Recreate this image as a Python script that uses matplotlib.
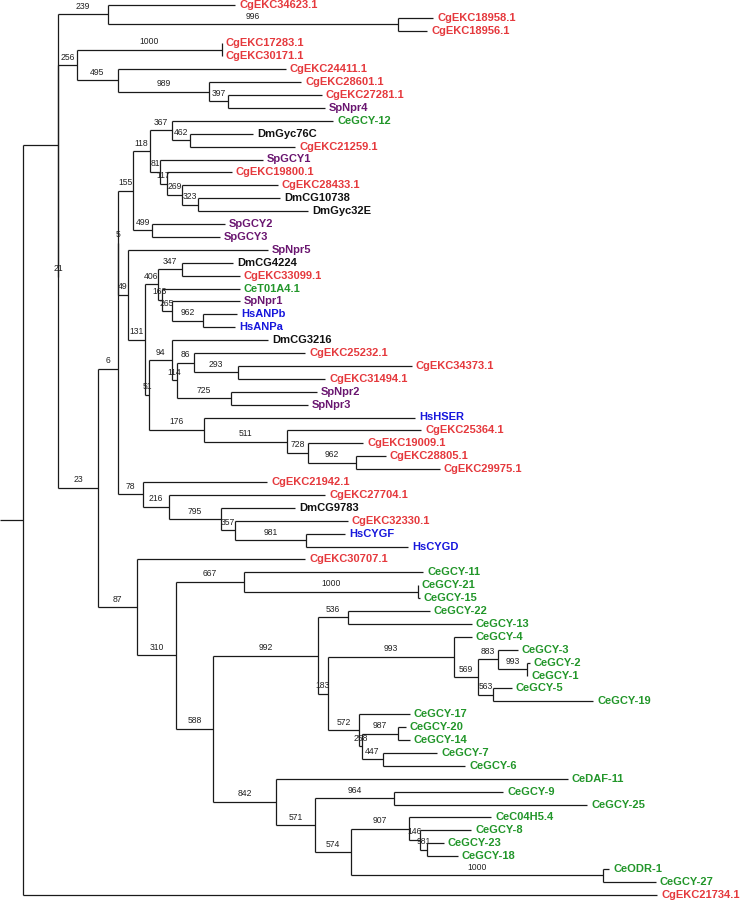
import matplotlib
matplotlib.use("Agg")
import matplotlib.pyplot as plt
from matplotlib.collections import LineCollection

# Tree in Newick form: internal labels are bootstrap values, lengths in drawing units
TOP = "(CgEKC34623.1:127,(CgEKC18958.1:35,CgEKC18956.1:29)996:290)239:50"
CG = ("((CgEKC17283.1:0,CgEKC30171.1:0)1000:145,(CgEKC24411.1:168,"
      "(CgEKC28601.1:92,(CgEKC27281.1:94,SpNpr4:97)397:19)989:91)495:41)256:19")
GCY = ("(((CeGCY-12:161,(DmGyc76C:63,CgEKC21259.1:105)462:18)367:22,"
       "(SpGCY1:103,(CgEKC19800.1:65,(CgEKC28433.1:96,(DmCG10738:82,DmGyc32E:110)323:16)269:15)117:7)81:10)118:17,"
       "(SpGCY2:73,SpGCY3:68)499:19)155:15")
NPR = ("(SpNpr5:140,(((DmCG4224:51,CgEKC33099.1:58)347:24,"
       "(CeT01A4.1:78,(SpNpr1:68,(HsANPb:34,HsANPa:32)962:31)265:10)163:4)406:13,"
       "((DmCG3216:96,((CgEKC25232.1:111,(CgEKC34373.1:174,CgEKC31494.1:87)293:44)86:17,"
       "(SpNpr2:86,SpNpr3:77)725:54)114:5)94:23,"
       "(HsHSER:211,(CgEKC25364.1:134,(CgEKC19009.1:55,(CgEKC28805.1:30,CgEKC29975.1:84)962:48)728:21)511:83)176:55)51:4)131:17)49:10")
CYG = ("(CgEKC21942.1:124,(CgEKC27704.1:156,(DmCG9783:74,"
       "(CgEKC32330.1:113,(HsCYGF:39,HsCYGD:102)981:71)357:14)795:52)216:26)78:25")
CE = ("(CgEKC30707.1:168,((CeGCY-11:179,(CeGCY-21:0,CeGCY-15:2)1000:174)667:68,"
      "(((CeGCY-22:82,CeGCY-13:124)536:30,((CeGCY-4:18,((CeGCY-3:20,(CeGCY-2:3,CeGCY-1:0)993:29)883:20,"
      "(CeGCY-5:19,CeGCY-19:100)563:15)569:24)993:126,(CeGCY-17:51,((CeGCY-20:8,CeGCY-14:12)987:36,"
      "(CeGCY-7:54,CeGCY-6:82)447:21)258:3)572:31)183:10)992:105,"
      "(CeDAF-11:292,((CeGCY-9:109,CeGCY-25:193)964:79,((CeC04H5.4:82,(CeGCY-8:51,"
      "(CeGCY-23:17,CeGCY-18:31)981:7)146:11)907:58,(CeODR-1:6,CeGCY-27:53)1000:252)574:36)571:39)842:63)588:37)310:39)87:39")

NEWICK = ("((" + TOP + ",(" + CG + ",(((" + GCY + "," + NPR + ")5:0," + CYG + ")6:20,"
          + CE + ")23:40)21:0):35,CgEKC21734.1:634):23;")

SPECIES_COLORS = {"Cg": "#e5393d", "Ce": "#22962a", "Dm": "#111111",
                  "Sp": "#6a1670", "Hs": "#1616dc"}


def parse_newick(s):
    pos = 0

    def node():
        nonlocal pos
        kids = []
        if s[pos] == "(":
            pos += 1
            kids.append(node())
            while s[pos] == ",":
                pos += 1
                kids.append(node())
            pos += 1
        start = pos
        while s[pos] not in ":,);":
            pos += 1
        name = s[start:pos]
        length = 0.0
        if s[pos] == ":":
            pos += 1
            start = pos
            while s[pos] not in ",);":
                pos += 1
            length = float(s[start:pos])
        return {"name": name, "len": length, "kids": kids}

    return node()


# Layout: x from cumulative branch length, leaves evenly spaced, parents centred
Y0, DY = 4.7, 12.9
leaf_count = [0]


def layout(n, px):
    n["px"] = px
    n["x"] = px + n["len"]
    if not n["kids"]:
        n["y"] = Y0 + leaf_count[0] * DY
        leaf_count[0] += 1
    else:
        for k in n["kids"]:
            layout(k, n["x"])
        n["y"] = (n["kids"][0]["y"] + n["kids"][-1]["y"]) / 2


tree = parse_newick(NEWICK)
layout(tree, 0.0)

fig = plt.figure(figsize=(7.41, 9.01), dpi=100)
ax = fig.add_axes([0, 0, 1, 1])
ax.set_xlim(0, 741)
ax.set_ylim(901, 0)
ax.axis("off")

segs = []


def draw(n):
    segs.append([(n["px"], n["y"]), (n["x"], n["y"])])
    if n["kids"]:
        segs.append([(n["x"], n["kids"][0]["y"]), (n["x"], n["kids"][-1]["y"])])
        if n["name"]:
            ax.text((n["px"] + n["x"]) / 2, n["y"] - 8, n["name"], fontsize=6.2,
                    family="Liberation Sans", color="#222222",
                    ha="center", va="center")
        for k in n["kids"]:
            draw(k)
    else:
        ax.text(n["x"] + 4, n["y"], n["name"], fontsize=8, fontweight="bold",
                family="Liberation Sans", color=SPECIES_COLORS[n["name"][:2]],
                ha="left", va="center")


draw(tree)
ax.add_collection(LineCollection(segs, colors="#1a1a1a", linewidths=0.9))

fig.savefig("out.png", dpi=100)
